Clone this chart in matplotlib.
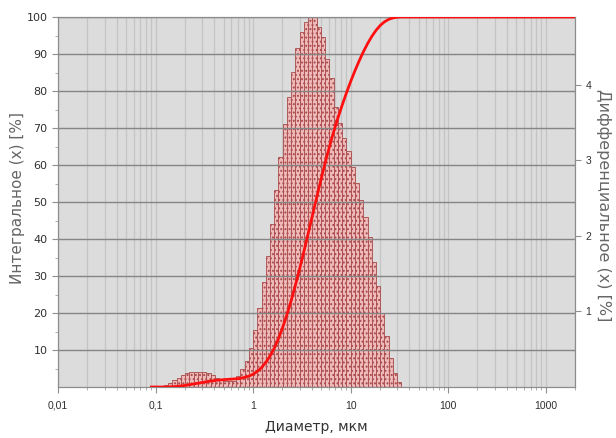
import numpy as np
import matplotlib
matplotlib.use('Agg')
import matplotlib.pyplot as plt
from matplotlib.ticker import LogLocator, NullFormatter

# instrument size classes (bin edges, um), 23 classes per decade
size_edges = [0.09046, 0.1000, 0.1105, 0.1222, 0.1350, 0.1492, 0.1650, 0.1823,
              0.2015, 0.2227, 0.2462, 0.2721, 0.3008, 0.3324, 0.3674, 0.4061,
              0.4489, 0.4962, 0.5484, 0.6061, 0.6700, 0.7405, 0.8185, 0.9046,
              1.000, 1.105, 1.222, 1.350, 1.492, 1.650, 1.823, 2.015,
              2.227, 2.462, 2.721, 3.008, 3.324, 3.674, 4.061, 4.489,
              4.962, 5.484, 6.061, 6.700, 7.405, 8.185, 9.046, 10.00,
              11.05, 12.22, 13.50, 14.92, 16.50, 18.23, 20.15, 22.27,
              24.62, 27.21, 30.08, 33.24]

# differential distribution per class, %
diff_pct = [0.0, 0.0, 0.0,
            0.02, 0.05, 0.09, 0.12, 0.155, 0.185, 0.20, 0.205, 0.205, 0.20,
            0.185, 0.155, 0.125, 0.10, 0.08, 0.075, 0.085, 0.14, 0.24, 0.34, 0.52,
            0.75, 1.05, 1.39, 1.74, 2.16, 2.61, 3.05, 3.48, 3.84, 4.17, 4.49,
            4.70, 4.83, 4.90, 4.90, 4.77, 4.64, 4.34, 4.09, 3.71, 3.50, 3.30,
            3.12, 2.91, 2.70, 2.48, 2.25, 1.98, 1.66, 1.34, 0.98, 0.67, 0.38,
            0.19, 0.06]

x_ticks = [0.01, 0.1, 1, 10, 100, 1000]
x_labels = ['0,01', '0,1', '1', '10', '100', '1000']

edges = np.array(size_edges)
diff = np.array(diff_pct)
cum = np.concatenate([[0], np.cumsum(diff)]) / diff.sum() * 100
# curve stays at 100 % up to the end of the axis
cum_x = np.append(edges, 2000)
cum_y = np.append(cum, 100)

plt.rcParams['hatch.linewidth'] = 0.9

fig = plt.figure(figsize=(6.16, 4.38), dpi=100)
ax = fig.add_axes([58 / 616, 51 / 438, 517 / 616, 370 / 438])
ax2 = ax.twinx()
ax.set_zorder(ax2.get_zorder() + 1)
ax.patch.set_visible(False)
ax2.patch.set_visible(True)
ax2.set_facecolor('#dcdcdc')

ax.set_xscale('log')
ax.set_xlim(0.01, 2000)
ax.set_ylim(0, 100)
ax2.set_ylim(0, 4.9)

# histogram on the right scale
ax2.bar(edges[:-1], diff, width=np.diff(edges), align='edge',
        facecolor='#eebaba', edgecolor='#a84a4a', linewidth=0.6,
        hatch='....', zorder=2)

# vertical grid under the bars
ax2.xaxis.set_visible(True)
ax2.tick_params(axis='x', which='both', bottom=False, top=False,
                labelbottom=False, labeltop=False)
ax2.set_axisbelow(True)
ax2.grid(axis='x', which='both', color='#c4c4c4', linewidth=0.9)

# integral curve on the left scale
ax.plot(cum_x, cum_y, color='#ff1010', linewidth=2, zorder=4)

ax.set_xticks(x_ticks)
ax.set_xticklabels(x_labels)
ax.xaxis.set_minor_locator(LogLocator(base=10, subs=np.arange(2, 10)))
ax.xaxis.set_minor_formatter(NullFormatter())
ax.set_yticks(range(10, 101, 10))
ax.set_yticks(range(5, 100, 10), minor=True)
ax.yaxis.grid(True, which='major', color='#858585', linewidth=1)
ax2.set_yticks([1, 2, 3, 4])

ax.tick_params(axis='x', which='major', length=4, color='#909090',
               labelsize=7.5, labelcolor='#303030', pad=6)
ax.tick_params(axis='x', which='minor', length=2.5, color='#a0a0a0')
ax.tick_params(axis='y', which='major', length=4, color='#909090',
               labelsize=8, labelcolor='#303030')
ax.tick_params(axis='y', which='minor', length=2, color='#a0a0a0')
ax2.tick_params(axis='y', length=4, color='#909090', labelsize=7.5,
                labelcolor='#303030')
for lab in ax.get_yticklabels():
    lab.set_family(['Liberation Sans Narrow', 'DejaVu Sans'])
for lab in ax.get_xticklabels() + ax2.get_yticklabels():
    lab.set_family(['Liberation Sans', 'DejaVu Sans'])

for a in (ax, ax2):
    for s in a.spines.values():
        s.set_color('#8c8c8c')

fig.text(18 / 616, 1 - 198 / 438, 'Интегральное (x) [%]', rotation=90,
         ha='center', va='center', fontsize=11, color='#666666')
fig.text(604 / 616, 1 - 205 / 438, 'Дифференциальное (x) [%]', rotation=270,
         ha='center', va='center', fontsize=11.5, color='#666666')
fig.text(316 / 616, 1 - 427 / 438, 'Диаметр, мкм', ha='center', va='center',
         fontsize=10, color='#333333')

fig.savefig('out.png', dpi=100)
